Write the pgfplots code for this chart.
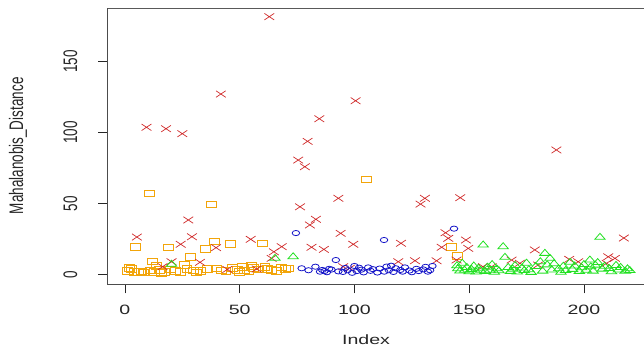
\documentclass[border=0pt]{standalone}
\usepackage{graphicx}
\usepackage{pgfplots}
\pgfplotsset{compat=1.18}
\usepackage{fontspec}
\setmainfont{Liberation Sans}
\definecolor{cOr}{HTML}{F2A50A}
\definecolor{cRe}{HTML}{D02A2A}
\definecolor{cBl}{HTML}{1414C8}
\definecolor{cGr}{HTML}{22E022}
\newcommand\hs[1]{\scalebox{1.45}[1]{#1}}
\newcommand\vs[1]{\scalebox{1}[1.45]{#1}}
\begin{document}
\begin{tikzpicture}
\begin{axis}[
  name=ax,
  at={(107.5pt,69.7pt)}, anchor=south west,
  scale only axis, width=542.5pt, height=276pt,
  xmin=-7.6, xmax=228.8, ymin=-6.9, ymax=187.5,
  xtick={0,50,100,150,200}, ytick={0,50,100,150},
  minor tick num=0,
  tick align=outside, major tick length=9pt,
  xtick pos=left, ytick pos=left,
  axis line style={black!70, line width=0.9pt},
  tick style={black!85, line width=0.8pt},
  /pgf/number format/assume math mode=true,
  xticklabel={\hs{\pgfmathprintnumber{\tick}}},
  yticklabel={\rotatebox{90}{\vs{\pgfmathprintnumber{\tick}}}},
  xticklabel style={anchor=north, inner ysep=12pt},
  yticklabel style={anchor=east, inner xsep=0pt, xshift=-21pt},
  every tick label/.append style={font=\fontsize{13.5}{16}\selectfont, text=black!85},
  xlabel={\hs{Index}}, ylabel={\vs{Mahalanobis\_Distance}},
  xlabel style={at={(axis description cs:0.4765,-0.202)}, anchor=center, font=\fontsize{13.5}{16}\selectfont, text=black!85},
  ylabel style={at={(axis description cs:-0.165,0.502)}, anchor=center, font=\fontsize{13.5}{16}\selectfont, text=black!85},
  clip=false,
]
% orange squares
\addplot[only marks, mark=square, mark size=3.3pt, color=cOr, mark options={xscale=1.5, line width=0.8pt}] coordinates {
(1,2.5) (2,4.5) (3,3.8) (4,2.0) (4.5,19.6) (6,1.8) (7,2.2) (8,1.5) (10.6,57.2) (11,2.8)
(11.9,9.3) (13,1.8) (13.8,6.0) (15,3.2) (16,1.2) (17,2.0) (19,19.1) (20,3.5) (22,2.4) (24,2.0)
(26.1,6.7) (27,4.0) (28.5,12.5) (30,3.0) (31,1.5) (33,2.6) (34.9,18.2) (36,3.8) (37.8,49.4) (38.8,23.4)
(40,4.2) (42,3.0) (44,2.5) (46,21.5) (47,4.8) (49,3.3) (50,2.0) (51,5.2) (52,3.0) (54,2.4)
(55,6.2) (56,4.5) (58,3.6) (59.8,22.0) (61,5.4) (62,4.0) (64,3.2) (66,2.5) (68,5.0) (70,3.8)
(71.2,4.4) (105.3,67.0) (142.3,19.3) (144.8,13.3)
};
% red crosses
\addplot[only marks, mark=x, mark size=4.6pt, color=cRe, mark options={xscale=1.5, line width=0.7pt}] coordinates {
(5.2,26.4) (9.4,103.7) (16.4,5.5) (17.9,102.7) (20.3,9.0) (24.3,21.3) (25,99.2) (27.6,38.4) (29.2,26.6) (32.7,8.6)
(39.7,18.9) (41.8,127.1) (44.6,3.6) (54.8,24.8) (57.4,3.9) (62.9,181.6) (63.9,11.4) (64.9,16.0) (68.3,19.6) (75.5,80.6)
(76.3,47.7) (78.4,75.9) (79.6,93.8) (80.6,34.9) (81.3,19.2) (83.2,38.9) (84.7,109.7) (86.7,17.7) (93,53.7) (94,29.0)
(95.1,5.5) (98,4.4) (99.5,21.3) (100.5,122.4) (119.1,9.0) (120.3,22.0) (126.4,9.7) (128.8,49.6) (130.7,53.7) (135.8,9.7)
(138,19.2) (139.7,29.4) (140.9,25.5) (144.5,10.2) (146.1,54.1) (148.6,24.3) (149.6,18.4) (156,5.5) (159.8,5.5) (168.5,10.2)
(172.1,7.9) (178.6,17.3) (180,6.7) (188,87.7) (193.6,10.7) (197.5,9.0) (209.9,7.9) (210.6,12.5) (213.5,11.4) (217.4,25.7)
};
% blue circles
\addplot[only marks, mark=o, mark size=2.6pt, color=cBl, mark options={xscale=1.45, line width=0.8pt}] coordinates {
(74.5,29.2) (77,4.4) (80,3.0) (83,5.5) (85,2.0) (86,3.2) (87,2.5) (88,1.6) (89,4.0) (90,3.5)
(91.9,10.2) (93,2.2) (95,1.8) (96,4.6) (97,3.0) (99,1.2) (100,6.0) (101,2.4) (102,4.8) (103,3.4)
(104,1.5) (106,5.0) (107,2.6) (108,3.8) (110,1.4) (111,4.2) (112.9,24.3) (113,2.0) (114,5.6) (115,3.0)
(116,6.2) (117,1.8) (118,4.4) (120,3.2) (121,2.0) (122,5.0) (124,2.8) (125,1.6) (127,4.0) (128,2.4)
(130,3.6) (131,5.4) (132,2.0) (133,3.0) (134,6.0) (143.4,32.3)
};
% green triangles
\addplot[only marks, mark=triangle, mark size=4pt, color=cGr, mark options={xscale=1.5, line width=0.8pt}] coordinates {
(20.3,7.2) (65.4,11.4) (73.3,12.5)
(144.7,6.2) (145,4.0) (146,2.5) (147,7.9) (148,3.0) (149,5.0) (150,2.0) (151,3.6) (152,6.0) (153,1.8)
(154,4.4) (155,3.0) (156.1,20.8) (157,2.2) (158,5.2) (159,3.0) (160,7.0) (161,1.6) (162,4.0) (163,2.6)
(164.8,19.6) (165.6,12.1) (167,5.0) (168,2.2) (169,3.8) (170,6.4) (171,1.8) (173,4.6) (174,2.8) (175,8.0)
(176,3.4) (177,1.5) (179,5.6) (181,9.0) (182,2.4) (183,14.9) (184,6.8) (185.2,11.4) (186,3.2) (187,7.6)
(189,4.0) (190,1.6) (191,5.8) (192,2.8) (194,8.6) (195,3.6) (196,6.0) (198,2.2) (199,4.8) (200,7.0)
(201,3.0) (202.6,10.2) (203,5.4) (204,2.4) (205,6.6) (206,8.4) (207,26.2) (208,3.8) (209,5.8) (211,4.2)
(212,2.0) (214,6.4) (215,3.2) (216,5.0) (218,2.4) (219,4.0) (220,2.8)
};
\end{axis}
\draw[black!65, line width=1.5pt] (ax.north west) -- (ax.north east);
\pgfresetboundingbox
\path[use as bounding box] (0,0) rectangle (644pt,354pt);
\end{tikzpicture}
\end{document}
